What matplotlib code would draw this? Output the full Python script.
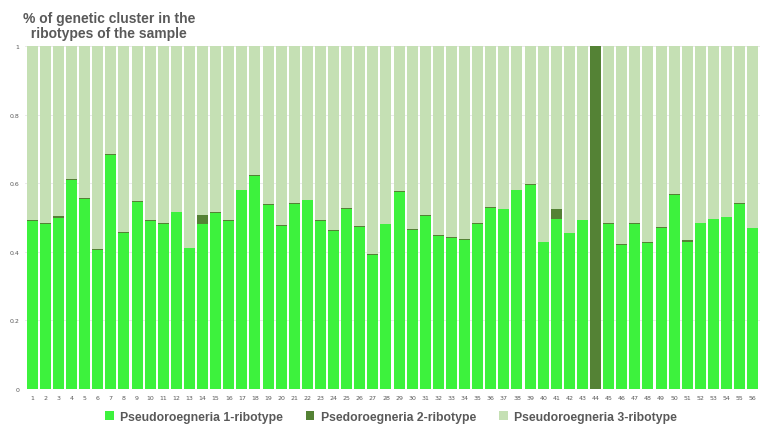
import numpy as np
import matplotlib.pyplot as plt

samples = [str(i) for i in range(1, 57)]
ribotype1 = [0.489, 0.48, 0.50, 0.609, 0.555, 0.405, 0.682, 0.455, 0.545, 0.49,
             0.48, 0.515, 0.41, 0.48, 0.513, 0.49, 0.58, 0.62, 0.535, 0.475,
             0.538, 0.55, 0.49, 0.46, 0.525, 0.472, 0.39, 0.482, 0.575, 0.463,
             0.505, 0.445, 0.44, 0.434, 0.48, 0.528, 0.525, 0.58, 0.595, 0.43,
             0.495, 0.455, 0.492, 0.0, 0.48, 0.42, 0.48, 0.425, 0.47, 0.565,
             0.43, 0.485, 0.497, 0.502, 0.54, 0.47]
ribotype2 = [0.003, 0.003, 0.003, 0.003, 0.003, 0.003, 0.003, 0.003, 0.003, 0.003,
             0.003, 0.0, 0.0, 0.026, 0.003, 0.003, 0.0, 0.003, 0.003, 0.003,
             0.003, 0.0, 0.003, 0.003, 0.003, 0.003, 0.003, 0.0, 0.003, 0.003,
             0.003, 0.003, 0.003, 0.003, 0.003, 0.003, 0.0, 0.0, 0.003, 0.0,
             0.03, 0.0, 0.0, 1.0, 0.003, 0.003, 0.003, 0.003, 0.003, 0.003,
             0.003, 0.0, 0.0, 0.0, 0.003, 0.0]
ribotype3 = [1 - a - b for a, b in zip(ribotype1, ribotype2)]

c1, c2, c3 = '#3DF23D', '#548235', '#C5E0B4'
grey = '#595959'

fig = plt.figure(figsize=(7.74, 4.35), dpi=100)
ax = fig.add_axes([25 / 774, 45 / 435, 735 / 774, 343 / 435])
x = np.arange(len(samples))
w = 0.84
ax.bar(x, ribotype1, w, color=c1, label='Pseudoroegneria 1-ribotype', zorder=2)
ax.bar(x, ribotype2, w, bottom=ribotype1, color=c2, label='Psedoroegneria 2-ribotype', zorder=2)
bottom3 = [a + b for a, b in zip(ribotype1, ribotype2)]
ax.bar(x, ribotype3, w, bottom=bottom3, color=c3, label='Pseudoroegneria 3-ribotype', zorder=2)

ax.set_xlim(-0.55, len(samples) - 0.45)
ax.set_ylim(0, 1)
ax.set_xticks(x)
ax.set_xticklabels(samples)
ax.set_yticks([0, 0.2, 0.4, 0.6, 0.8, 1])
ax.set_yticklabels(['0', '0.2', '0.4', '0.6', '0.8', '1'])
ax.tick_params(length=0, labelsize=4.5, colors=grey, pad=4)
ax.grid(axis='y', color='#E6E6E6', linewidth=0.6, zorder=0)
for s in ax.spines.values():
    s.set_visible(False)

fig.text(0.03, 0.905, '% of genetic cluster in the\n  ribotypes of the sample',
         fontsize=10, fontweight='bold', color=grey, ha='left', va='bottom',
         linespacing=1.15, family='Liberation Sans')

fig.legend(loc='lower center', ncol=3, frameon=False, bbox_to_anchor=(0.505, 0.0),
           handlelength=0.7, handleheight=0.7, handletextpad=0.5,
           columnspacing=1.9, labelcolor=grey,
           prop={'family': 'Liberation Sans', 'weight': 'bold', 'size': 8.8})

plt.savefig('out.png', dpi=100)
plt.close()
